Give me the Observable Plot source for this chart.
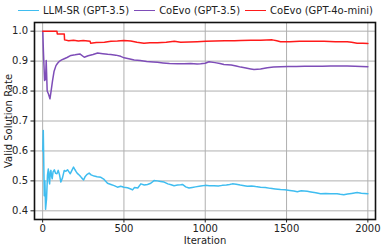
<!DOCTYPE html>
<html>
<head>
<meta charset="utf-8">
<script src="https://cdn.jsdelivr.net/npm/d3@7"></script>
<script src="https://cdn.jsdelivr.net/npm/@observablehq/plot@0.6"></script>
<style>
  html, body { margin: 0; padding: 0; background: #fff; }
  body { width: 382px; height: 247px; overflow: hidden; font-family: "DejaVu Sans", sans-serif; }
  #legend { height: 20px; display: flex; align-items: center; padding-left: 18px; font-size: 10px; color: #222; white-space: nowrap; }
  .item { display: flex; align-items: center; margin-right: 5px; }
  .swatch { width: 21px; height: 0; border-top: 1.5px solid; margin-right: 4px; }
</style>
</head>
<body>
<div id="legend"></div>
<div id="chart"></div>
<script>
const seriesNames = ["LLM-SR (GPT-3.5)", "CoEvo (GPT-3.5)", "CoEvo (GPT-4o-mini)"];
const seriesColors = ["#3fbdf0", "#7e4db8", "#ff1a1a"];

const llmsrIter = [1, 4, 10, 14, 18, 24, 30, 35, 40, 43, 47, 51, 55, 59, 64, 72, 80, 88, 96, 104, 112, 122, 133, 143, 153, 162, 170, 180, 190, 198, 207, 215, 228, 240, 252, 262, 274, 286, 298, 317, 335, 358, 378, 399, 420, 440, 460, 480, 500, 522, 542, 553, 565, 585, 604, 625, 645, 665, 685, 705, 725, 747, 770, 790, 808, 830, 849, 860, 880, 900, 920, 940, 972, 1000, 1025, 1054, 1080, 1105, 1130, 1150, 1167, 1190, 1215, 1240, 1259, 1285, 1310, 1340, 1370, 1400, 1430, 1463, 1490, 1520, 1545, 1566, 1590, 1627, 1650, 1680, 1709, 1740, 1770, 1811, 1830, 1852, 1875, 1900, 1934, 1960, 1980, 2000];
const llmsrVals = [0.60, 0.668, 0.45, 0.50, 0.405, 0.44, 0.52, 0.540, 0.50, 0.490, 0.53, 0.535, 0.515, 0.507, 0.53, 0.537, 0.525, 0.524, 0.535, 0.52, 0.496, 0.51, 0.535, 0.532, 0.537, 0.530, 0.524, 0.535, 0.546, 0.538, 0.530, 0.524, 0.518, 0.510, 0.503, 0.515, 0.522, 0.526, 0.520, 0.516, 0.514, 0.512, 0.505, 0.492, 0.488, 0.484, 0.479, 0.482, 0.479, 0.477, 0.473, 0.470, 0.478, 0.476, 0.490, 0.486, 0.488, 0.492, 0.501, 0.500, 0.498, 0.496, 0.490, 0.487, 0.484, 0.486, 0.487, 0.488, 0.480, 0.476, 0.478, 0.480, 0.483, 0.485, 0.484, 0.484, 0.483, 0.485, 0.486, 0.488, 0.490, 0.489, 0.486, 0.484, 0.482, 0.483, 0.481, 0.479, 0.478, 0.475, 0.473, 0.471, 0.470, 0.468, 0.466, 0.464, 0.467, 0.465, 0.463, 0.460, 0.457, 0.458, 0.457, 0.457, 0.455, 0.454, 0.456, 0.458, 0.461, 0.459, 0.458, 0.457];

const coevo35Iter = [1, 5, 12, 18, 22, 28, 36, 45, 52, 61, 70, 82, 92, 102, 117, 133, 150, 174, 200, 229, 256, 280, 310, 338, 370, 400, 419, 450, 480, 501, 530, 563, 600, 640, 680, 706, 740, 780, 829, 870, 910, 950, 972, 1000, 1023, 1060, 1090, 1115, 1160, 1190, 1218, 1250, 1280, 1300, 1340, 1382, 1420, 1463, 1510, 1560, 1610, 1667, 1720, 1770, 1820, 1873, 1920, 1960, 2000];
const coevo35Vals = [1.0, 0.93, 0.835, 0.84, 0.902, 0.80, 0.79, 0.774, 0.80, 0.835, 0.865, 0.885, 0.893, 0.899, 0.904, 0.908, 0.912, 0.919, 0.921, 0.924, 0.913, 0.918, 0.922, 0.927, 0.925, 0.923, 0.922, 0.920, 0.916, 0.911, 0.908, 0.904, 0.902, 0.899, 0.897, 0.896, 0.894, 0.892, 0.891, 0.891, 0.892, 0.890, 0.891, 0.893, 0.898, 0.895, 0.892, 0.889, 0.887, 0.884, 0.880, 0.877, 0.874, 0.872, 0.874, 0.878, 0.880, 0.881, 0.882, 0.882, 0.883, 0.883, 0.883, 0.884, 0.884, 0.884, 0.883, 0.882, 0.881];

const coevo4oIter = [1, 40, 88, 90, 120, 133, 135, 160, 190, 220, 250, 292, 295, 330, 380, 420, 460, 500, 542, 580, 623, 660, 706, 760, 810, 849, 900, 950, 1003, 1060, 1120, 1180, 1218, 1280, 1340, 1412, 1440, 1463, 1520, 1580, 1667, 1730, 1800, 1873, 1900, 1934, 1970, 2000];
const coevo4oVals = [1.0, 1.0, 1.0, 0.991, 0.991, 0.991, 0.971, 0.968, 0.970, 0.967, 0.969, 0.966, 0.960, 0.962, 0.963, 0.966, 0.967, 0.969, 0.967, 0.963, 0.960, 0.961, 0.961, 0.963, 0.966, 0.963, 0.964, 0.965, 0.966, 0.967, 0.968, 0.968, 0.969, 0.970, 0.970, 0.971, 0.968, 0.965, 0.965, 0.966, 0.966, 0.966, 0.965, 0.965, 0.963, 0.960, 0.960, 0.959];

const xTicks = [0, 500, 1000, 1500, 2000];
const yTicks = [0.4, 0.5, 0.6, 0.7, 0.8, 0.9, 1.0];

const rows = [];
[[llmsrIter, llmsrVals], [coevo35Iter, coevo35Vals], [coevo4oIter, coevo4oVals]].forEach(([xs, ys], i) => {
  xs.forEach((x, j) => rows.push({series: seriesNames[i], iter: x, rate: ys[j]}));
});

// legend
const legend = document.getElementById("legend");
seriesNames.forEach((n, i) => {
  const it = document.createElement("div");
  it.className = "item";
  const sw = document.createElement("div");
  sw.className = "swatch";
  sw.style.borderTopColor = seriesColors[i];
  const tx = document.createElement("span");
  tx.textContent = n;
  it.appendChild(sw); it.appendChild(tx);
  legend.appendChild(it);
});

const chart = Plot.plot({
  width: 382,
  height: 227,
  marginTop: 2,
  marginLeft: 34,
  marginRight: 7,
  marginBottom: 28,
  style: {fontFamily: "DejaVu Sans, sans-serif", fontSize: "10px", color: "#222", background: "white"},
  x: {domain: [-50, 2047]},
  y: {domain: [0.371, 1.029]},
  color: {domain: seriesNames, range: seriesColors},
  marks: [
    Plot.gridX(xTicks, {stroke: "#b0b0b0", strokeOpacity: 1, strokeWidth: 1}),
    Plot.gridY(yTicks, {stroke: "#b0b0b0", strokeOpacity: 1, strokeWidth: 1}),
    Plot.axisX(xTicks, {tickSize: 3.5, tickPadding: 2, tickFormat: d => String(d), label: "Iteration", labelAnchor: "center", labelOffset: 24, labelArrow: "none"}),
    Plot.axisY(yTicks, {tickSize: 3.5, tickPadding: 3, tickFormat: d => d.toFixed(1), label: "Valid Solution Rate", labelAnchor: "center", labelOffset: 30, labelArrow: "none"}),
    Plot.line(rows, {x: "iter", y: "rate", z: "series", stroke: "series", strokeWidth: 1.5, curve: "linear"}),
    Plot.frame({stroke: "#111", strokeWidth: 1.6})
  ]
});
document.getElementById("chart").appendChild(chart);
</script>
</body>
</html>
